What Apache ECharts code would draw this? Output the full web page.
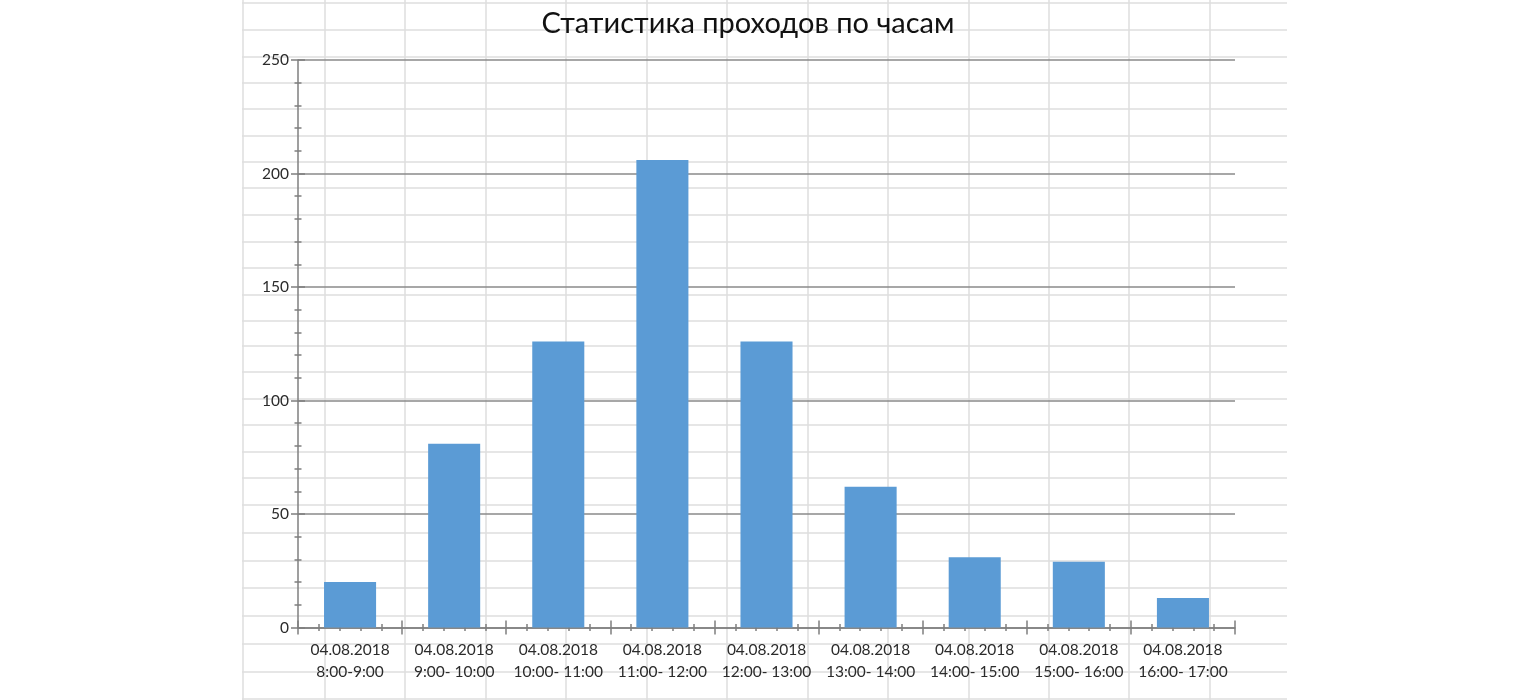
<!DOCTYPE html>
<html><head><meta charset="utf-8">
<script src="https://cdn.jsdelivr.net/npm/echarts@6/dist/echarts.min.js"></script>
<style>html,body{margin:0;padding:0;background:#fff}#c{width:1528px;height:700px}</style>
</head><body><div id="c"></div>
<script>
const titleText = 'Статистика проходов по часам';
const categories = [
  '04.08.2018\n8:00-9:00',
  '04.08.2018\n9:00- 10:00',
  '04.08.2018\n10:00- 11:00',
  '04.08.2018\n11:00- 12:00',
  '04.08.2018\n12:00- 13:00',
  '04.08.2018\n13:00- 14:00',
  '04.08.2018\n14:00- 15:00',
  '04.08.2018\n15:00- 16:00',
  '04.08.2018\n16:00- 17:00'
];
const values = [20, 81, 126, 206, 126, 62, 31, 29, 13];
const yMin = 0, yMax = 250, yStep = 50;

// spreadsheet background (decoration only)
const sheetCols = [243, 325, 405, 486, 566, 647, 727, 808, 888, 969, 1049, 1129, 1210];
const sheetRows = [3, 30, 57, 83, 109, 136, 162, 188, 215, 242, 268, 295, 321, 346, 372, 399, 425, 452, 478, 505, 533, 561, 588, 616, 644, 672, 699];
const sheetLeft = 242, sheetRight = 1287;

const bg = [];
sheetCols.forEach(x => bg.push({type:'line', z:-10, silent:true, shape:{x1:x, y1:0, x2:x, y2:700}, style:{stroke:'#dedede', lineWidth:1.5}}));
sheetRows.forEach(y => bg.push({type:'line', z:-10, silent:true, shape:{x1:sheetLeft, y1:y, x2:sheetRight, y2:y}, style:{stroke:'#dedede', lineWidth:1.5}}));

const font = 'Lato';
const axisColor = '#7f7f7f';
const textColor = '#2b2b2b';
const chart = echarts.init(document.getElementById('c'));
const valX = (inside, len, mlen) => ({
  type:'value', gridIndex:0, position:'bottom', min:0, max:categories.length, interval:1,
  axisLine:{show:false}, axisLabel:{show:false}, splitLine:{show:false},
  axisTick:{show:true, inside:inside, length:len, lineStyle:{color:axisColor, width:1.5}},
  minorTick:{show:true, splitNumber:5, length:mlen, lineStyle:{color:axisColor, width:1.5}}
});
const valY = (inside, show) => ({
  type:'value', position:'left', min:yMin, max:yMax, interval:yStep,
  axisLine:{show:show, lineStyle:{color:axisColor, width:1.5}},
  axisLabel:{show:show, color:textColor, fontSize:15.5, fontFamily:font, margin:9},
  splitLine:{show:show, lineStyle:{color:'#8a8a8a', width:1.5}},
  axisTick:{show:true, inside:inside, length:7, lineStyle:{color:axisColor, width:1.5}},
  minorTick:{show:true, splitNumber:5, length:3.5, lineStyle:{color:axisColor, width:1.5}}
});
chart.setOption({
  animation:false,
  backgroundColor:'transparent',
  graphic:{elements:bg},
  title:{text:titleText, left:748, textAlign:'center', top:9, padding:0,
    textStyle:{fontFamily:font, fontSize:29, fontWeight:'normal', color:'#111'}},
  grid:{left:298, right:293, top:60, bottom:72.5, containLabel:false},
  xAxis:[
    {type:'category', data:categories, position:'bottom',
      axisLine:{show:true, lineStyle:{color:axisColor, width:1.5}},
      axisTick:{show:false},
      axisLabel:{color:textColor, fontSize:15.5, fontFamily:font, lineHeight:22, margin:11, interval:0}},
    valX(false, 7, 3.5),
    valX(true, 7, 3.5)
  ],
  yAxis:[valY(false, true), valY(true, false)],
  series:[{type:'bar', data:values, barWidth:'50%', itemStyle:{color:'#5b9bd5'}, xAxisIndex:0, yAxisIndex:0}]
});
</script></body></html>
